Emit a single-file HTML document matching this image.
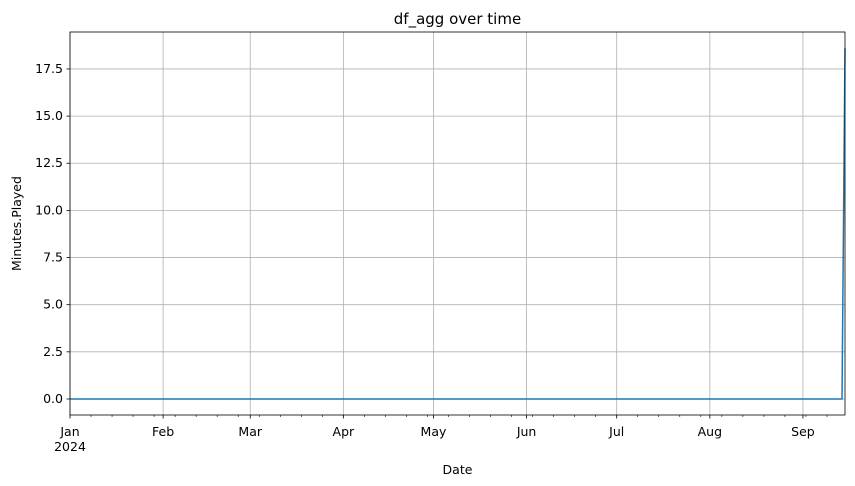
<!DOCTYPE html>
<html><head><meta charset="utf-8"><style>
body{margin:0;background:#fff;}
svg{display:block;font-family:"DejaVu Sans","Liberation Sans",sans-serif;}
</style></head><body>
<svg id="c" width="855" height="486"></svg>
<script>
const dates = ["2024-01-01","2024-09-14","2024-09-15"];
const values = [0, 0, 18.6];
const yTicks = [0,2.5,5,7.5,10,12.5,15,17.5];
const monthTicks = ["2024-01-01","2024-02-01","2024-03-01","2024-04-01","2024-05-01","2024-06-01","2024-07-01","2024-08-01","2024-09-01"];
const monthLabels = ["Jan","Feb","Mar","Apr","May","Jun","Jul","Aug","Sep"];

const L=70,R=845,T=32,B=415;
const d0=Date.parse("2024-01-01"), d1=Date.parse("2024-09-15");
const yMin=-0.85,yMax=19.46;
const X=d=>L+(Date.parse(d)-d0)/(d1-d0)*(R-L);
const Xt=t=>L+(t-d0)/(d1-d0)*(R-L);
const Y=v=>B-(v-yMin)/(yMax-yMin)*(B-T);
const svg=document.getElementById('c');
const NS="http://www.w3.org/2000/svg";
function mk(tag,attrs,txt){const e=document.createElementNS(NS,tag);for(const k in attrs)e.setAttribute(k,attrs[k]);if(txt!==undefined)e.textContent=txt;svg.appendChild(e);return e;}

// grid + y ticks
yTicks.forEach(v=>{
  const y=Y(v);
  const g=mk('line',{x1:L,x2:R,y1:y,y2:y,stroke:'#b0b0b0','stroke-width':0.8});
  
  
  mk('line',{x1:L-3.5,x2:L,y1:y,y2:y,stroke:'#000','stroke-width':0.8});
  const t=mk('text',{x:L-7,y:y+4,'text-anchor':'end','font-size':12.5},v.toFixed(1));
  
  
});
monthTicks.forEach((d,i)=>{
  const x=X(d);
  const g=mk('line',{x1:x,x2:x,y1:T,y2:B,stroke:'#b0b0b0','stroke-width':0.8});
  
  
  mk('line',{x1:x,x2:x,y1:B,y2:B+3.5,stroke:'#000','stroke-width':0.8});
  const t=mk('text',{x:x,y:B+21,'text-anchor':'middle','font-size':12.5},monthLabels[i]);
  
  
});
// weekly minor ticks
for(let t=d0+7*864e5;t<=d1;t+=7*864e5){
  const x=Xt(t);
  mk('line',{x1:x,x2:x,y1:B,y2:B+2,stroke:'#000','stroke-width':0.6});
}
const yr=mk('text',{x:L,y:B+36,'text-anchor':'middle','font-size':12.5},"2024");



// series
const pts=dates.map((d,i)=>X(d).toFixed(1)+','+Y(values[i]).toFixed(1)).join(' ');
const line=mk('polyline',{points:pts,fill:'none',stroke:'#1f77b4','stroke-width':1.5});



// frame
const fr=mk('rect',{x:L,y:T,width:R-L,height:B-T,fill:'none',stroke:'#000','stroke-width':0.8});



const ti=mk('text',{x:(L+R)/2,y:T-8,'text-anchor':'middle','font-size':15},"df_agg over time");


const xl=mk('text',{x:(L+R)/2,y:474,'text-anchor':'middle','font-size':12.5},"Date");


const yl=mk('text',{x:0,y:0,'text-anchor':'middle','font-size':12.5,transform:`translate(21,${(T+B)/2}) rotate(-90)`},"Minutes.Played");


</script>
</body></html>
